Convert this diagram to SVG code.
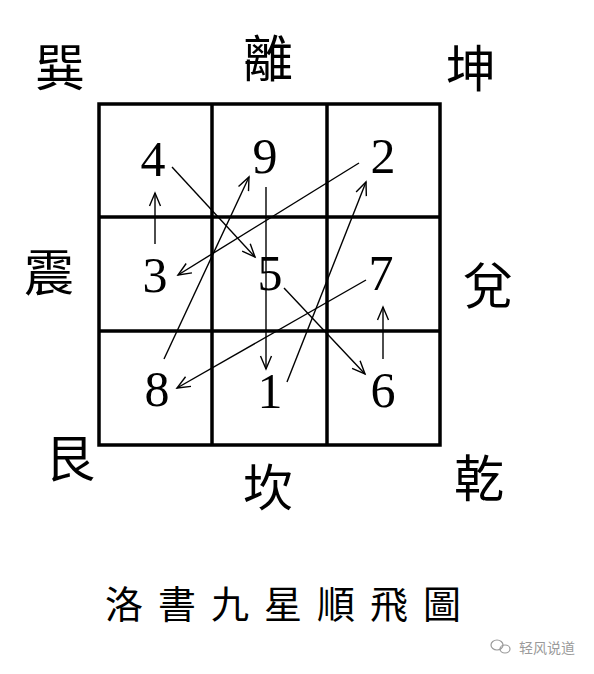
<svg xmlns="http://www.w3.org/2000/svg" width="594" height="674" viewBox="0 0 594 674">
<style>
.grid{fill:none;stroke:#000;stroke-width:3.5}
.num{font-family:"Liberation Serif","DejaVu Serif",serif;font-size:50px;fill:#000;text-anchor:middle}
.tri{font-family:"Noto Sans CJK TC","Noto Sans CJK SC",sans-serif;font-size:50px;fill:#000;text-anchor:middle}
.title{font-family:"Noto Sans CJK TC","Noto Sans CJK SC",sans-serif;font-size:38px;fill:#000;letter-spacing:15px}
.arr{stroke:#000;stroke-width:1.4;fill:none;marker-end:url(#ah)}
.wm{font-family:"Noto Sans CJK SC",sans-serif;font-size:14px;fill:#9a9a9a}
</style>
<defs>
<marker id="ah" markerUnits="userSpaceOnUse" markerWidth="20" markerHeight="20" refX="14" refY="10" orient="auto">
<polyline points="1,4.5 14,10 1,15.5" fill="none" stroke="#000" stroke-width="1.4"/>
</marker>
</defs>
<rect width="594" height="674" fill="#fff"/>
<g id="grid">
<rect class="grid" x="99" y="104" width="341" height="341"/>
<line class="grid" x1="212" y1="104" x2="212" y2="445"/>
<line class="grid" x1="327" y1="104" x2="327" y2="445"/>
<line class="grid" x1="99" y1="217" x2="440" y2="217"/>
<line class="grid" x1="99" y1="331" x2="440" y2="331"/>
</g>
<g id="trigrams">
<g id="xun"><text class="tri" x="60" y="86">巽</text></g>
<g id="li"><text class="tri" x="268" y="77">離</text></g>
<g id="kun"><text class="tri" x="471" y="87">坤</text></g>
<g id="zhen"><text class="tri" x="49" y="291">震</text></g>
<g id="dui"><text class="tri" x="488" y="304">兌</text></g>
<g id="gen"><text class="tri" x="70" y="477">艮</text></g>
<g id="kan"><text class="tri" x="268" y="506">坎</text></g>
<g id="qian"><text class="tri" x="479" y="497">乾</text></g>
</g>
<g id="numbers">
<g id="n4"><text class="num" x="153" y="176">4</text></g>
<g id="n9"><text class="num" x="265" y="173">9</text></g>
<g id="n2"><text class="num" x="383" y="173">2</text></g>
<g id="n3"><text class="num" x="155" y="292">3</text></g>
<g id="n5"><text class="num" x="270" y="290">5</text></g>
<g id="n7"><text class="num" x="381" y="290">7</text></g>
<g id="n8"><text class="num" x="157" y="406">8</text></g>
<g id="n1"><text class="num" x="270" y="408">1</text></g>
<g id="n6"><text class="num" x="383" y="407">6</text></g>
</g>
<g id="connectors">
<line class="arr" x1="287" y1="382" x2="366" y2="182"/>
<line class="arr" x1="359" y1="163" x2="178" y2="275"/>
<line class="arr" x1="155" y1="244" x2="155" y2="193"/>
<line class="arr" x1="172" y1="167" x2="255" y2="257"/>
<line class="arr" x1="284" y1="288" x2="365" y2="374"/>
<line class="arr" x1="383" y1="359" x2="383" y2="307"/>
<line class="arr" x1="366" y1="280" x2="177" y2="388"/>
<line class="arr" x1="164" y1="359" x2="249" y2="177"/>
<line class="arr" x1="266" y1="187" x2="266" y2="369"/>
</g>
<g id="title"><text class="title" x="105" y="618">洛書九星順飛圖</text></g>
<g id="watermark">
<ellipse cx="497" cy="645" rx="6" ry="5" fill="none" stroke="#9a9a9a" stroke-width="1.2"/>
<ellipse cx="505" cy="649" rx="5" ry="4" fill="none" stroke="#9a9a9a" stroke-width="1.2"/>
<text class="wm" x="519" y="653">轻风说道</text>
</g>
</svg>
